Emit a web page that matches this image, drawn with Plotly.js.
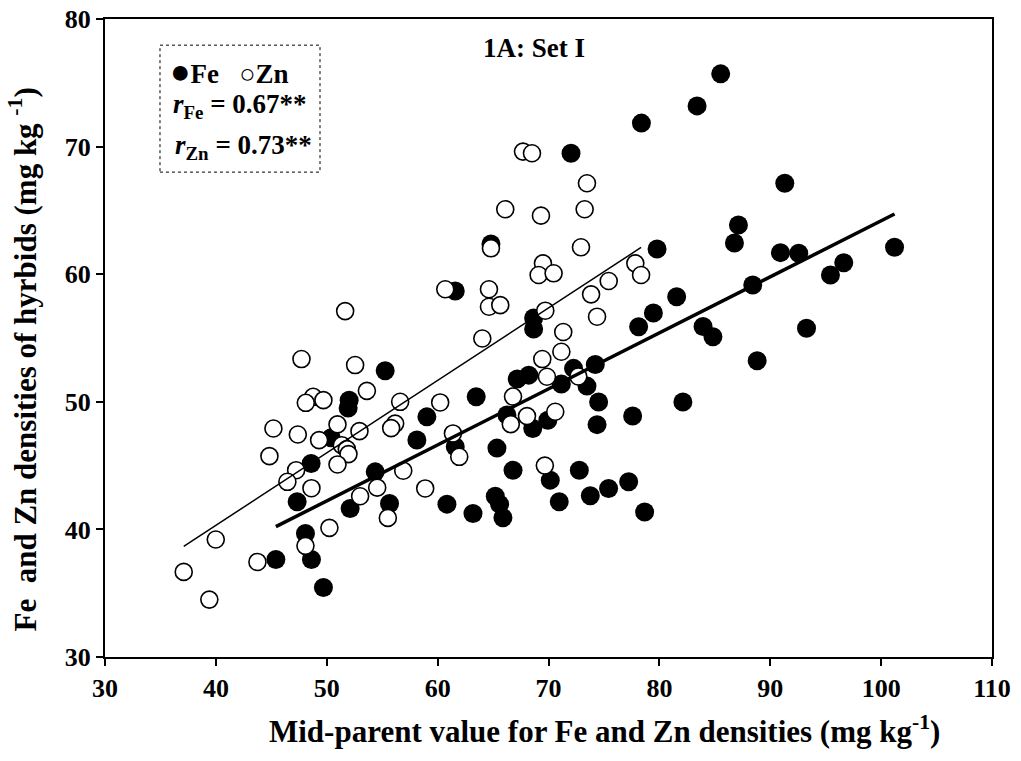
<!DOCTYPE html>
<html>
<head>
<meta charset="utf-8">
<script src="https://cdn.plot.ly/plotly-3.0.1.min.js"></script>
<style>html,body{margin:0;padding:0;background:#fff;}#chart{width:1021px;height:761px;}</style>
</head>
<body>
<div id="chart"></div>
<script>
// Fe: mid-parent value (x) vs hybrid density (y)
const feX = [52.02,51.93,50.40,48.59,47.33,52.11,48.08,45.41,48.62,49.70,
             61.59,55.27,68.66,68.66,67.18,68.22,63.48,59.03,58.13,61.59,
             65.35,66.25,68.58,69.94,66.80,70.16,54.37,55.66,60.84,63.19,
             65.20,65.59,65.89,78.38,72.03,64.81,87.13,86.77,79.79,81.56,
             79.46,78.13,83.94,84.83,74.22,72.26,73.47,71.16,74.52,82.12,
             77.59,74.38,72.78,70.97,73.77,75.42,77.23,78.67,85.53,83.40,
             91.31,90.92,92.57,96.63,95.43,101.21,88.42,93.27,88.82];
const feY = [50.13,49.51,47.19,45.17,42.16,41.64,39.68,37.64,37.64,35.44,
             58.68,52.43,56.56,55.70,51.78,52.09,50.39,48.82,47.00,46.47,
             46.37,48.96,47.91,48.56,44.64,43.86,44.51,42.03,41.98,41.25,
             42.60,41.98,40.92,71.84,69.48,62.37,63.86,62.45,61.98,58.24,
             56.96,55.88,55.90,55.10,52.93,52.62,51.23,51.39,49.98,49.98,
             48.88,48.21,44.64,42.16,42.63,43.21,43.73,41.37,75.70,73.19,
             67.13,61.69,61.64,60.90,59.94,62.11,59.15,55.76,53.22];
// Zn: mid-parent value (x) vs hybrid density (y)
const znX = [51.66,47.72,48.77,48.11,49.70,45.19,47.39,49.31,50.97,51.36,
             51.81,51.96,44.83,47.24,46.45,50.97,48.62,50.24,39.99,43.75,
             37.10,39.41,48.08,60.69,64.63,64.63,65.65,64.03,52.56,53.62,
             56.62,60.23,69.44,69.86,66.80,68.06,66.60,52.95,56.17,55.81,
             61.38,61.95,56.90,54.55,58.88,53.01,55.51,69.67,67.70,68.51,
             73.47,66.10,69.32,73.26,64.81,72.93,69.50,69.11,70.46,77.83,
             78.35,75.43,73.84,74.38,69.71,71.33,71.16,72.69,70.61];
const znY = [57.11,53.35,50.39,49.92,50.13,47.91,47.44,47.00,48.23,46.60,
             46.29,45.90,45.74,44.64,43.73,45.09,43.23,40.12,39.21,37.45,
             36.67,34.50,38.71,58.82,58.82,57.45,57.58,54.96,52.88,50.86,
             50.00,49.95,53.35,51.96,50.41,48.88,48.25,47.70,48.29,47.94,
             47.52,45.69,44.60,43.27,43.21,42.60,40.90,45.00,69.61,69.48,
             67.13,65.09,64.59,65.09,62.03,62.11,60.85,59.94,60.07,60.85,
             59.94,59.47,58.42,56.67,57.14,55.47,53.92,51.98,49.22];
const xTicks = [30,40,50,60,70,80,90,100,110];
const yTicks = [30,40,50,60,70,80];

function fitLine(xs, ys){
  const n = xs.length;
  const mx = xs.reduce((a,b)=>a+b,0)/n, my = ys.reduce((a,b)=>a+b,0)/n;
  let sxy=0, sxx=0;
  for(let i=0;i<n;i++){ sxy+=(xs[i]-mx)*(ys[i]-my); sxx+=(xs[i]-mx)**2; }
  const b = sxy/sxx, a = my - b*mx;
  const x0 = Math.min(...xs), x1 = Math.max(...xs);
  return {x:[x0,x1], y:[a+b*x0, a+b*x1]};
}
const feFit = fitLine(feX, feY);
const znFit = fitLine(znX, znY);

const FONT = 'Liberation Serif, Times New Roman, serif';

const traces = [
  {x: feX, y: feY, type:'scatter', mode:'markers', name:'Fe',
   marker:{symbol:'circle', size:19, color:'#000', line:{width:0}}},
  {x: znX, y: znY, type:'scatter', mode:'markers', name:'Zn',
   marker:{symbol:'circle', size:17, color:'#fff', line:{width:1.6, color:'#000'}}},
  {x: feFit.x, y: feFit.y, type:'scatter', mode:'lines', line:{color:'#000', width:3.5}, hoverinfo:'skip'},
  {x: znFit.x, y: znFit.y, type:'scatter', mode:'lines', line:{color:'#000', width:1.5}, hoverinfo:'skip'}
];

const axisCommon = {
  showline:true, mirror:true, linecolor:'#000', linewidth:2,
  ticks:'outside', ticklen:7, tickwidth:2, tickcolor:'#000',
  showgrid:false, zeroline:false, automargin:false,
  tickfont:{family:FONT, size:26, color:'#000', weight:'bold'}
};

const layout = {
  width:1021, height:761,
  margin:{l:105, r:29, t:19, b:104},
  paper_bgcolor:'#fff', plot_bgcolor:'#fff',
  showlegend:false,
  xaxis: Object.assign({}, axisCommon, {
    range:[30,110], tickvals:xTicks, ticktext:xTicks.map(String)
  }),
  yaxis: Object.assign({}, axisCommon, {
    range:[30,80], tickvals:yTicks, ticktext:yTicks.map(String)
  }),
  shapes:[
    {type:'rect', xref:'paper', yref:'paper', x0:0.062, x1:0.2424, y0:0.760, y1:0.959,
     line:{color:'#000', width:1, dash:'dot'}, fillcolor:'rgba(0,0,0,0)'}
  ],
  annotations:[
    {xref:'paper', yref:'paper', x:0.5626, y:-0.114, xanchor:'center', yanchor:'middle', showarrow:false,
     text:'<b>Mid-parent value for Fe and Zn densities (mg kg<sup>-1</sup>)</b>',
     font:{family:FONT, size:31, color:'#000'}},
    {xref:'paper', yref:'paper', x:-0.093, y:0.4655, xanchor:'center', yanchor:'middle', showarrow:false,
     textangle:-90,
     text:'<b>Fe  and Zn densities of hyrbids (mg kg <sup>-1</sup>)</b>',
     font:{family:FONT, size:31, color:'#000'}},
    {xref:'paper', yref:'paper', x:0.4835, y:0.955, xanchor:'center', yanchor:'middle', showarrow:false,
     text:'<b>1A: Set I</b>', font:{family:FONT, size:27, color:'#000'}},
    {xref:'paper', yref:'paper', x:0.071, y:0.917, xanchor:'left', yanchor:'middle', showarrow:false,
     text:'<span style="font-size:34px">●</span><b>Fe</b>   <span style="font-size:27px">○</span><b>Zn</b>',
     font:{family:FONT, size:27, color:'#000'}},
    {xref:'paper', yref:'paper', x:0.074, y:0.864, xanchor:'left', yanchor:'middle', showarrow:false,
     text:'<b><i>r</i><sub>Fe</sub> = 0.67**</b>', font:{family:FONT, size:27, color:'#000'}},
    {xref:'paper', yref:'paper', x:0.077, y:0.800, xanchor:'left', yanchor:'middle', showarrow:false,
     text:'<b><i>r</i><sub>Zn</sub> = 0.73**</b>', font:{family:FONT, size:27, color:'#000'}}
  ]
};

Plotly.newPlot('chart', traces, layout, {staticPlot:true, displayModeBar:false});
</script>
</body>
</html>
